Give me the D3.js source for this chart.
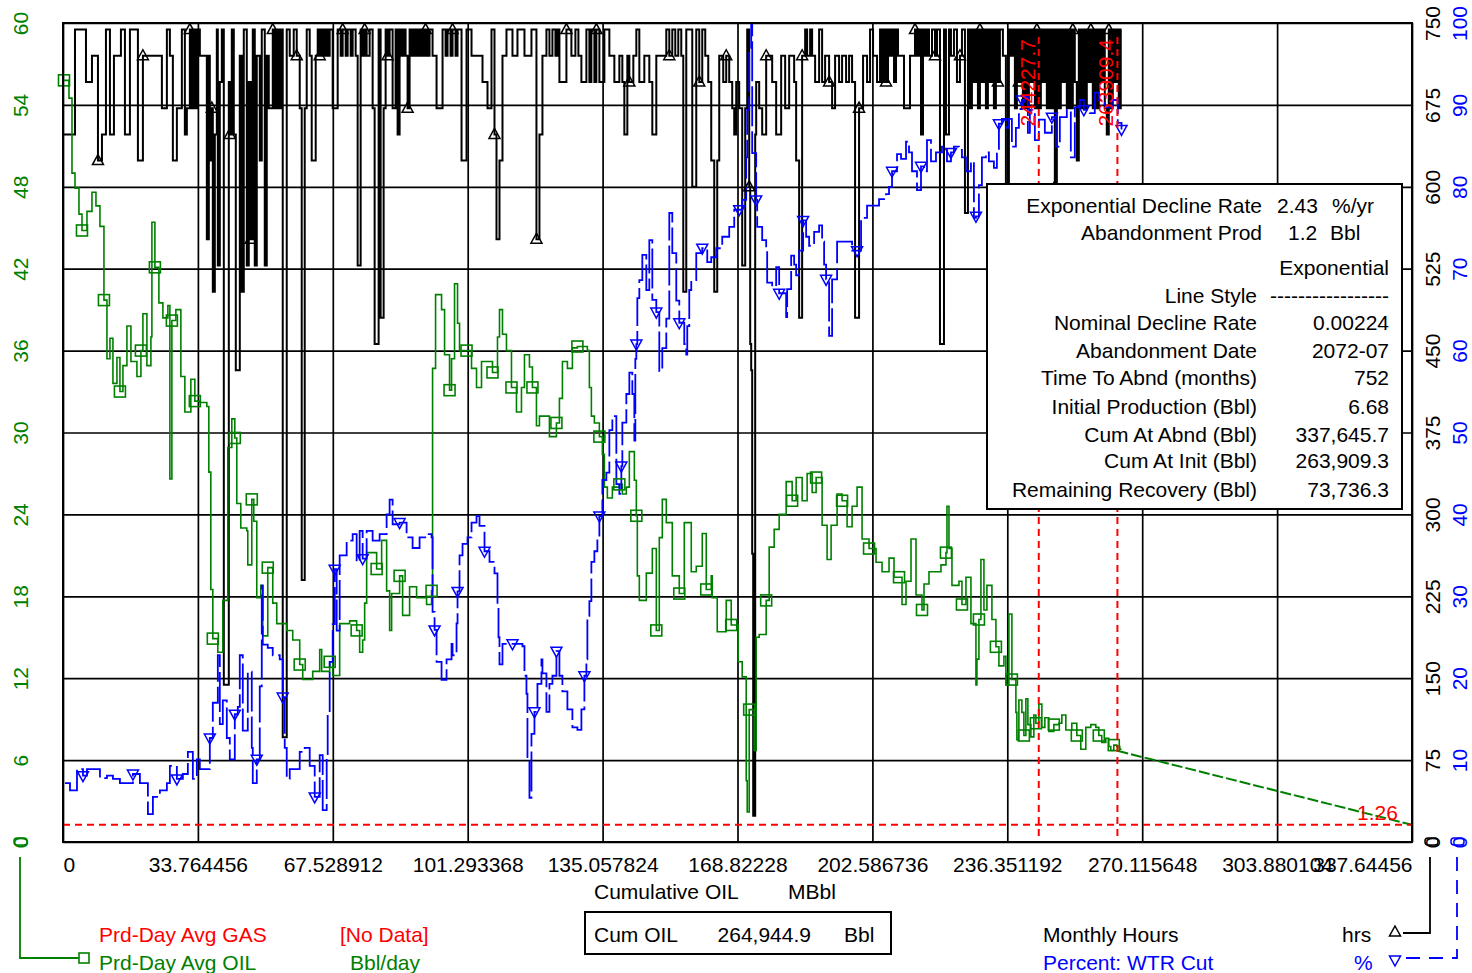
<!DOCTYPE html>
<html>
<head>
<meta charset="utf-8">
<script src="https://cdn.jsdelivr.net/npm/d3@7"></script>
<style>
  html, body { margin: 0; padding: 0; background: #fff; }
  svg { display: block; font-family: "Liberation Sans", Arial, sans-serif; }
</style>
</head>
<body>
<svg id="chart" width="1472" height="973"></svg>
<script>
// ---- axis ticks -------------------------------------------------------
const xTicks = [0, 33.764456, 67.528912, 101.293368, 135.057824, 168.82228,
  202.586736, 236.351192, 270.115648, 303.880104, 337.64456];
const xTickLabels = ["0", "33.764456", "67.528912", "101.293368", "135.057824", "168.82228",
  "202.586736", "236.351192", "270.115648", "303.880104", "337.64456"];
const oilTicks = [0, 6, 12, 18, 24, 30, 36, 42, 48, 54, 60];
const hoursTicks = [0, 75, 150, 225, 300, 375, 450, 525, 600, 675, 750];
const wtrTicks = [0, 10, 20, 30, 40, 50, 60, 70, 80, 90, 100];

// ---- Prd-Day Avg OIL (Bbl/day) vs cumulative oil (MBbl) -----------------
const oilRate = [
  [0.25,55.8],[1.5,54.5],[2.25,49.0],[3.0,47.9],[4.0,46.0],[4.75,44.8],[6.0,46.2],[7.25,47.6],
  [8.25,46.6],[9.25,45.1],[10.25,39.7],[11.0,35.4],[11.75,36.9],[12.5,33.6],[13.5,35.5],[14.25,33.0],
  [15.0,34.9],[16.0,37.8],[17.0,35.2],[18.5,34.1],[19.5,36.0],[20.0,38.7],[21.0,34.9],[22.0,37.0],
  [22.25,45.4],[23.0,42.1],[24.0,39.5],[25.0,38.4],[26.25,39.3],[26.75,26.6],[27.25,38.2],[28.25,39.0],
  [29.5,34.1],[30.5,31.5],[32.0,33.9],[33.0,32.3],[34.25,32.2],[36.0,31.9],[36.5,27.1],[37.0,18.5],
  [37.5,14.9],[38.75,13.9],[40.0,17.7],[41.25,28.9],[42.25,31.0],[43.0,29.6],[43.5,24.8],[44.5,23.0],
  [46.0,22.8],[46.25,20.3],[47.25,25.1],[47.75,23.5],[48.5,17.9],[49.5,18.8],[50.0,15.1],[51.25,20.1],
  [52.5,17.5],[53.5,16.0],[56.0,15.5],[57.5,14.8],[59.25,13.0],[60.0,11.9],[62.5,12.5],[64.25,14.1],
  [64.75,12.5],[66.75,13.2],[67.5,12.2],[68.75,12.2],[69.25,16.0],[71.75,16.2],[73.5,15.5],[74.25,13.9],
  [75.0,14.8],[75.5,17.5],[76.0,21.2],[78.5,20.0],[79.75,22.1],[81.0,18.4],[81.75,15.5],[82.25,18.2],
  [84.25,19.5],[85.0,16.6],[86.75,18.7],[88.5,17.9],[91.0,17.4],[92.25,18.4],[92.5,34.7],[93.25,40.1],
  [94.75,39.0],[95.5,35.7],[96.75,33.1],[97.25,35.4],[98.0,40.9],[98.75,38.0],[99.25,36.0],[101.0,36.0],
  [102.25,34.7],[103.5,33.3],[104.75,35.2],[106.0,35.2],[107.5,34.4],[108.75,37.0],[109.25,39.0],[110.0,37.2],
  [111.0,36.0],[112.25,33.3],[113.5,31.5],[114.75,33.3],[115.5,35.7],[116.75,34.8],[117.5,33.3],[118.5,30.5],
  [119.25,31.2],[121.0,31.2],[121.75,29.7],[123.5,30.7],[124.25,32.5],[125.0,35.2],[126.25,34.7],[127.5,36.2],
  [128.75,36.3],[131.25,36.0],[131.75,33.3],[132.25,31.2],[133.0,30.7],[134.25,29.7],[135.0,28.4],[135.5,26.0],
  [136.25,25.2],[137.5,26.0],[139.25,26.2],[140.0,25.5],[141.0,26.0],[141.75,28.6],[143.0,26.5],[143.5,23.9],
  [143.75,19.5],[144.25,17.7],[146.0,19.7],[147.5,21.5],[148.5,15.5],[149.25,22.3],[150.0,25.1],[151.0,23.4],
  [152.5,19.5],[154.25,18.2],[155.5,23.4],[157.25,19.8],[158.5,20.2],[160.0,22.6],[161.0,18.5],[162.25,19.5],
  [162.5,17.9],[163.75,15.4],[166.0,17.7],[167.25,15.9],[169.0,13.2],[170.0,12.1],[171.0,4.5],[171.25,2.2],
  [171.75,9.7],[172.5,9.7],[173.0,6.7],[173.5,15.0],[174.25,15.2],[176.0,17.7],[176.75,21.6],[178.0,22.9],
  [179.25,24.0],[181.0,26.4],[182.5,25.0],[183.5,26.7],[185.0,25.0],[186.25,27.0],[187.5,25.6],[188.5,26.7],
  [190.0,23.2],[191.25,20.7],[192.25,23.2],[193.75,25.5],[195.0,25.0],[196.25,23.1],[197.5,24.6],[198.75,26.0],
  [200.0,22.2],[201.75,21.5],[203.5,20.5],[205.0,19.8],[206.75,20.8],[208.0,19.4],[209.25,19.4],[210.0,17.4],
  [211.0,19.1],[212.25,22.2],[213.5,18.1],[215.0,17.0],[215.5,18.9],[216.75,19.8],[218.5,19.8],[219.75,20.3],
  [221.0,21.2],[221.25,24.6],[221.75,21.5],[222.5,18.8],[224.25,19.1],[225.0,17.4],[226.0,19.4],[227.25,16.0],
  [228.5,11.5],[228.75,13.4],[229.25,16.3],[229.75,20.7],[230.5,17.0],[231.25,18.8],[232.5,16.3],[233.5,14.3],
  [234.25,12.9],[235.5,13.6],[236.0,11.5],[236.75,16.7],[237.5,11.9],[238.5,9.5],[238.75,7.5],[239.25,10.4],
  [240.0,9.5],[240.5,7.8],[241.0,10.5],[241.5,8.6],[242.25,7.7],[243.0,9.3],[243.5,8.7],[244.25,10.1],
  [245.0,8.4],[245.75,9.1],[246.75,8.1],[248.0,8.6],[249.25,8.7],[250.0,9.3],[251.0,8.2],[252.5,8.7],
  [253.75,7.8],[254.75,6.8],[256.0,8.4],[257.25,8.6],[258.5,8.4],[259.25,7.8],[260.0,7.3],[261.0,7.6],
  [261.75,7.0],[262.25,6.7],[263.0,7.1],[263.75,7.0],[264.5,6.8],[264.94,6.8]
];

// ---- Percent: WTR Cut (%) vs cumulative oil (MBbl) ----------------------
const waterCut = [
  [0.5,7.2],[1.75,6.3],[3.5,8.9],[5.0,8.1],[6.0,8.9],[9.25,7.8],[11.0,8.1],[12.5,7.7],
  [14.25,7.2],[15.0,7.2],[17.5,8.3],[19.25,7.2],[21.25,3.4],[22.5,5.5],[24.25,6.3],[26.0,7.2],
  [26.75,9.3],[28.5,7.7],[30.0,8.3],[31.25,11.0],[32.5,7.7],[33.5,10.1],[34.25,8.9],[36.25,8.9],
  [36.75,12.7],[37.5,17.0],[38.75,22.8],[39.25,14.4],[40.0,17.3],[41.0,12.7],[41.75,10.1],[43.0,15.6],
  [43.75,16.5],[44.25,22.8],[45.0,13.6],[46.25,20.8],[47.25,11.5],[47.5,7.2],[48.5,10.1],[49.25,19.0],
  [49.75,31.3],[50.0,24.1],[51.25,23.7],[52.5,22.8],[54.25,22.3],[55.0,17.7],[55.5,11.5],[56.0,7.7],
  [56.75,8.9],[59.25,11.0],[60.5,11.5],[61.75,9.3],[63.0,5.5],[64.25,10.6],[65.0,3.9],[66.0,10.6],
  [66.25,15.6],[66.75,22.0],[67.5,26.6],[68.0,33.3],[68.5,25.8],[69.25,35.0],[71.0,36.8],[72.5,37.6],
  [73.5,34.2],[74.25,38.0],[75.0,34.6],[76.0,38.0],[77.5,36.8],[79.25,37.6],[81.0,40.0],[81.75,41.8],
  [82.5,38.8],[84.25,39.0],[86.0,37.2],[87.5,35.9],[89.25,37.2],[91.0,37.6],[92.25,37.2],[92.5,28.1],
  [93.0,25.9],[93.5,22.0],[94.75,19.8],[96.0,22.3],[97.25,24.2],[97.5,22.8],[98.5,26.7],[98.75,30.6],
  [99.25,35.0],[100.0,36.4],[101.25,37.2],[102.25,39.0],[103.5,39.8],[104.25,38.6],[105.5,35.5],[106.75,34.2],
  [108.0,32.8],[108.75,28.9],[109.0,25.0],[109.25,21.7],[110.0,24.2],[112.5,24.2],[115.0,23.9],[115.5,20.3],
  [116.0,18.1],[116.25,9.8],[116.75,5.4],[117.25,13.2],[118.0,15.9],[118.75,19.3],[119.75,22.3],[120.0,20.6],
  [121.0,15.9],[121.75,19.3],[122.5,20.3],[123.5,23.3],[124.25,20.3],[125.0,18.4],[126.25,16.2],[127.5,14.0],
  [128.75,13.7],[129.75,16.2],[130.5,20.3],[131.0,22.3],[131.25,27.6],[131.75,29.4],[132.25,34.2],[133.0,35.5],
  [133.75,37.2],[134.25,39.8],[135.0,44.2],[136.0,45.1],[136.75,50.3],[137.5,52.0],[138.5,43.7],[139.25,42.5],
  [139.75,45.9],[140.0,51.2],[141.0,54.7],[141.75,57.3],[142.5,54.7],[143.0,49.0],[143.25,59.0],[143.5,60.8],
  [143.75,66.4],[144.25,68.6],[145.0,71.7],[146.0,67.4],[146.75,73.5],[147.5,66.2],[148.5,64.7],[149.25,57.5],
  [150.0,60.3],[151.0,63.9],[151.75,76.8],[152.5,71.9],[153.5,66.1],[154.25,63.4],[155.5,60.8],[156.0,59.5],
  [156.25,63.0],[156.75,67.4],[157.25,68.6],[158.5,71.9],[160.0,72.5],[161.25,70.8],[162.25,71.4],[163.5,72.5],
  [165.0,73.9],[166.75,75.1],[168.0,77.2],[169.25,77.2],[170.0,78.4],[171.0,83.6],[171.25,89.4],[171.75,96.7],
  [172.25,100.0],[172.5,84.1],[173.5,78.4],[173.75,75.1],[175.0,73.5],[176.0,72.3],[176.25,68.3],[177.5,67.8],
  [178.5,70.2],[179.25,67.0],[181.0,64.1],[181.25,67.5],[182.25,71.6],[183.0,70.5],[183.5,69.2],[184.25,72.2],
  [185.25,75.9],[186.0,73.9],[186.75,72.8],[188.0,74.5],[189.25,75.3],[190.0,73.3],[190.5,70.5],[191.0,68.7],
  [191.75,61.8],[192.5,68.7],[193.75,73.3],[195.0,73.3],[196.75,73.3],[197.5,72.2],[198.75,72.2],[199.75,76.2],
  [201.25,77.7],[202.5,77.7],[204.25,78.5],[206.0,79.1],[206.75,80.0],[207.5,81.9],[208.75,84.0],[209.75,83.4],
  [211.0,85.5],[211.75,84.2],[212.5,81.9],[213.75,79.6],[214.75,82.5],[215.5,81.9],[216.25,85.7],[217.25,83.1],
  [218.5,84.2],[220.0,84.9],[221.25,83.1],[222.25,84.2],[223.0,84.9],[224.25,84.5],[225.0,83.6],[226.0,81.9],
  [227.25,83.1],[228.0,76.2],[228.5,76.4],[229.25,80.2],[230.0,83.6],[231.0,84.2],[231.75,83.1],[233.0,82.3],
  [233.75,84.2],[234.25,87.7],[235.0,88.3],[236.0,87.2],[236.75,88.3],[237.5,84.9],[238.5,87.2],[239.25,89.5],
  [240.0,90.6],[240.75,91.0],[241.5,86.6],[242.0,89.4],[243.25,85.7],[244.25,88.2],[245.75,86.6],[247.5,88.5],
  [248.5,84.9],[249.5,88.5],[251.25,89.4],[252.25,83.6],[253.25,89.7],[254.5,90.6],[255.5,89.4],[257.0,89.0],
  [258.25,91.5],[259.25,90.6],[260.75,89.7],[262.5,90.6],[264.0,87.8],[264.94,87.0]
];

// ---- Monthly Hours (hrs) vs cumulative oil (MBbl) -----------------------
const monthlyHours = [
  [0.25,648],[3.0,744],[5.75,696],[7.25,720],[8.75,624],[9.75,648],[10.75,744],[11.75,648],
  [12.75,720],[14.5,744],[15.5,648],[16.75,744],[18.75,624],[20.0,720],[24.75,672],[26.0,744],
  [26.75,720],[27.5,624],[28.5,672],[29.75,744],[30.5,648],[31.0,672],[31.75,744],[32.25,672],
  [32.75,744],[33.25,672],[33.75,744],[34.25,720],[36.0,552],[36.5,720],[36.75,624],[37.25,672],
  [37.5,504],[38.0,648],[38.5,744],[38.75,528],[39.25,696],[39.75,744],[40.25,144],[41.5,696],
  [41.75,648],[42.25,744],[42.75,648],[43.25,432],[44.25,720],[44.75,504],[45.25,744],[46.0,528],
  [46.5,696],[47.0,552],[47.5,744],[48.0,528],[48.5,720],[49.25,624],[49.75,744],[50.5,528],
  [51.0,720],[51.5,672],[52.5,744],[53.0,672],[53.5,744],[54.0,672],[54.5,744],[55.0,96],
  [56.0,744],[56.75,720],[57.75,744],[58.5,720],[59.25,672],[59.75,240],[60.5,672],[61.0,744],
  [61.75,720],[62.25,624],[63.25,720],[63.75,744],[64.25,720],[64.75,744],[65.25,720],[65.75,744],
  [66.25,720],[66.75,744],[67.5,672],[68.75,744],[69.5,720],[70.0,744],[70.75,720],[71.25,744],
  [72.0,720],[72.5,744],[73.25,720],[73.75,528],[74.5,744],[75.0,720],[75.5,744],[76.0,720],
  [76.75,744],[77.5,672],[78.0,456],[79.0,744],[79.5,480],[80.25,672],[80.75,744],[81.25,720],
  [81.75,744],[82.5,672],[83.25,744],[83.75,648],[84.25,744],[84.75,720],[85.25,744],[85.75,720],
  [86.25,672],[86.75,744],[87.25,720],[87.75,744],[88.25,720],[88.75,744],[89.25,720],[89.75,744],
  [90.25,720],[90.75,744],[91.25,720],[91.75,744],[92.5,720],[93.5,672],[95.0,744],[95.75,720],
  [96.25,744],[97.0,720],[97.5,744],[98.25,720],[98.75,744],[99.75,624],[101.0,744],[102.25,720],
  [105.0,696],[106.25,672],[107.25,744],[108.0,648],[108.5,552],[109.25,624],[110.0,720],[111.0,744],
  [112.5,720],[113.75,744],[115.5,720],[117.25,744],[118.5,552],[119.25,648],[120.0,720],[121.0,744],
  [121.75,720],[122.5,744],[123.25,720],[123.75,744],[124.25,696],[126.0,744],[127.25,720],[128.25,744],
  [129.0,720],[129.75,696],[131.0,744],[131.75,696],[132.25,744],[133.0,696],[133.5,744],[134.25,696],
  [135.5,744],[136.75,720],[138.0,696],[139.25,720],[140.0,696],[140.5,648],[141.25,720],[141.75,696],
  [142.75,720],[143.5,744],[144.25,696],[145.5,720],[146.75,696],[147.5,648],[148.5,720],[151.0,744],
  [151.75,720],[152.5,744],[153.25,720],[154.0,744],[154.75,720],[155.25,504],[156.0,744],[157.5,600],
  [158.5,744],[159.25,696],[160.0,744],[160.75,720],[161.5,696],[162.25,624],[163.0,504],[163.75,624],
  [164.25,720],[165.25,696],[166.0,720],[166.75,696],[167.5,672],[168.0,648],[168.5,696],[169.25,672],
  [170.0,528],[170.75,672],[171.25,744],[171.75,600],[172.0,456],[172.25,432],[172.5,264],[172.75,24],
  [173.25,648],[173.5,696],[174.25,672],[175.0,648],[176.0,720],[177.5,696],[178.5,648],[179.75,720],
  [180.75,672],[181.75,720],[183.0,696],[183.5,624],[184.25,480],[185.0,720],[185.75,744],[186.25,720],
  [187.0,744],[187.5,720],[188.25,696],[189.25,744],[190.0,696],[190.75,720],[191.75,696],[192.5,672],
  [193.25,720],[194.25,696],[195.0,720],[196.0,696],[196.75,720],[197.5,696],[198.25,480],[199.25,672],
  [200.25,720],[201.25,696],[202.0,744],[202.75,720],[203.75,696],[204.5,744],[205.0,696],[205.5,744],
  [206.0,696],[206.5,744],[207.0,720],[207.5,744],[208.0,696],[208.5,744],[209.0,720],[210.5,672],
  [212.0,720],[213.25,744],[213.75,720],[214.25,744],[214.75,648],[215.25,744],[215.75,720],[216.25,744],
  [216.75,720],[217.5,744],[218.25,720],[218.75,744],[219.5,456],[220.5,744],[221.0,648],[221.75,744],
  [222.25,720],[223.0,744],[223.75,696],[224.5,720],[225.0,744],[225.75,576],[226.5,744],[227.0,672],
  [227.5,744],[228.0,696],[228.5,744],[229.0,672],[229.5,744],[230.0,696],[230.5,744],[231.0,672],
  [231.5,744],[232.0,696],[232.5,744],[233.0,672],[233.5,744],[234.0,696],[234.5,744],[235.25,720],
  [236.0,600],[236.75,744],[237.25,720],[237.75,744],[238.25,672],[238.75,744],[239.25,696],[239.75,744],
  [240.25,672],[240.75,744],[241.25,672],[241.75,744],[242.25,696],[242.75,744],[243.25,672],[243.75,744],
  [244.25,672],[244.75,744],[245.25,696],[245.75,744],[246.25,672],[246.75,744],[247.25,672],[247.75,744],
  [248.25,600],[248.75,744],[249.25,672],[249.75,744],[250.25,696],[250.75,744],[251.25,672],[251.75,744],
  [252.25,672],[252.75,744],[253.25,696],[253.75,624],[254.25,744],[254.75,672],[255.25,744],[255.75,672],
  [256.25,744],[256.75,696],[257.25,744],[257.75,672],[258.25,744],[258.75,672],[259.25,744],[259.75,696],
  [260.25,744],[260.75,672],[261.25,648],[261.75,744],[262.25,672],[262.75,744],[263.25,696],[263.75,744],
  [264.25,672],[264.75,744],[264.94,744]
];

// ---- exponential decline fit (from the fit summary) ---------------------
const declineFit = [[263.9093, 6.68], [337.6457, 1.26]];
const abandonRate = 1.26;
const fitWindow = [244.2277, 263.9094];
const fitWindowLabels = ["244227.7", "263909.4"];

const fitHeader = [
  ["Exponential Decline Rate", "2.43", "%/yr"],
  ["Abandonment Prod", "1.2", "Bbl"]
];
const fitRows = [
  ["", "Exponential"],
  ["Line Style", "-----------------"],
  ["Nominal Decline Rate", "0.00224"],
  ["Abandonment Date", "2072-07"],
  ["Time To Abnd (months)", "752"],
  ["Initial Production (Bbl)", "6.68"],
  ["Cum At Abnd (Bbl)", "337,645.7"],
  ["Cum At Init (Bbl)", "263,909.3"],
  ["Remaining Recovery (Bbl)", "73,736.3"]
];
const cumOil = "264,944.9";

// ---- layout ------------------------------------------------------------
const P = { left: 63, top: 23, right: 1412, bottom: 842 };
const GREEN = "#008000", BLUE = "#0000ff", RED = "#ff0000";
const FS = "21px";

const x = d3.scaleLinear().domain([0, 337.64456]).range([P.left, P.right]);
const yOil = d3.scaleLinear().domain([0, 60]).range([P.bottom, P.top]);
const yHrs = d3.scaleLinear().domain([0, 750]).range([P.bottom, P.top]);
const yWtr = d3.scaleLinear().domain([0, 100]).range([P.bottom, P.top]);

const svg = d3.select("#chart");
svg.append("rect").attr("width", 1472).attr("height", 973).attr("fill", "#fff");

// grid
const gridX = svg.append("g").attr("transform", `translate(0,${P.bottom})`)
  .call(d3.axisBottom(x).tickValues(xTicks).tickSize(-(P.bottom - P.top)).tickFormat(""));
const gridY = svg.append("g").attr("transform", `translate(${P.left},0)`)
  .call(d3.axisLeft(yOil).tickValues(oilTicks).tickSize(-(P.right - P.left)).tickFormat(""));
[gridX, gridY].forEach(g => {
  g.select(".domain").remove();
  g.selectAll("line").attr("stroke", "#000").attr("stroke-width", 1.7);
});

// ---- series -------------------------------------------------------------
const stepLine = ys => d3.line().x(d => x(d[0])).y(d => ys(d[1])).curve(d3.curveStepAfter);

svg.append("path").datum(monthlyHours)
  .attr("d", stepLine(yHrs)).attr("fill", "none")
  .attr("stroke", "#000").attr("stroke-width", 2);

svg.append("path").datum(oilRate)
  .attr("d", stepLine(yOil)).attr("fill", "none")
  .attr("stroke", GREEN).attr("stroke-width", 1.6);

svg.append("path").datum(waterCut)
  .attr("d", stepLine(yWtr)).attr("fill", "none")
  .attr("stroke", BLUE).attr("stroke-width", 1.8).attr("stroke-dasharray", "40,5");

// markers
const upTri = "M0,-6L5.5,4L-5.5,4Z";
const downTri = "M0,6L5.5,-4L-5.5,-4Z";
svg.append("g").selectAll("path").data(monthlyHours.filter((d, i) => i % 9 === 4)).join("path")
  .attr("d", upTri).attr("transform", d => `translate(${x(d[0])},${yHrs(d[1])})`)
  .attr("fill", "none").attr("stroke", "#000").attr("stroke-width", 1.5);
svg.append("g").selectAll("rect").data(oilRate.filter((d, i) => i % 5 === 0)).join("rect")
  .attr("x", d => x(d[0]) - 5.5).attr("y", d => yOil(d[1]) - 5.5)
  .attr("width", 11).attr("height", 11)
  .attr("fill", "none").attr("stroke", GREEN).attr("stroke-width", 1.6);
svg.append("g").selectAll("path").data(waterCut.filter((d, i) => i % 7 === 3)).join("path")
  .attr("d", downTri).attr("transform", d => `translate(${x(d[0])},${yWtr(d[1])})`)
  .attr("fill", "none").attr("stroke", BLUE).attr("stroke-width", 1.5);

// decline forecast
svg.append("path").datum(declineFit)
  .attr("d", d3.line().x(d => x(d[0])).y(d => yOil(d[1])))
  .attr("stroke", GREEN).attr("stroke-width", 2).attr("stroke-dasharray", "11,3");

// fit window and abandonment guides
svg.append("line")
  .attr("x1", P.left).attr("x2", P.right).attr("y1", yOil(abandonRate)).attr("y2", yOil(abandonRate))
  .attr("stroke", RED).attr("stroke-width", 2).attr("stroke-dasharray", "7,5");
svg.append("g").selectAll("line").data(fitWindow).join("line")
  .attr("x1", d => x(d)).attr("x2", d => x(d)).attr("y1", P.top + 14).attr("y2", P.bottom)
  .attr("stroke", RED).attr("stroke-width", 2).attr("stroke-dasharray", "7,5");
svg.append("g").selectAll("text").data(fitWindow).join("text")
  .attr("transform", d => `translate(${x(d) - 4},${P.top + 16}) rotate(-90)`)
  .attr("text-anchor", "end").attr("fill", RED).style("font-size", FS)
  .text((d, i) => fitWindowLabels[i]);
svg.append("text").attr("x", 1357).attr("y", yOil(abandonRate) - 5)
  .attr("fill", RED).style("font-size", FS).text(abandonRate.toFixed(2));

// frame
svg.append("rect").attr("x", P.left).attr("y", P.top)
  .attr("width", P.right - P.left).attr("height", P.bottom - P.top)
  .attr("fill", "none").attr("stroke", "#000").attr("stroke-width", 2);

// ---- axes labels ----------------------------------------------------------
const xAxis = svg.append("g").attr("transform", `translate(0,${P.bottom})`)
  .call(d3.axisBottom(x).tickValues(xTicks).tickSize(0).tickPadding(15)
    .tickFormat((d, i) => xTickLabels[i]));
xAxis.select(".domain").remove();
xAxis.selectAll("text").attr("fill", "#000").style("font-size", FS)
  .style("font-family", "Liberation Sans, Arial, sans-serif")
  .attr("text-anchor", (d, i) => i === 0 ? "start" : i === xTicks.length - 1 ? "end" : "middle");

function rotatedAxis(axisFn, scale, ticks, gx, offset, color) {
  const g = svg.append("g").attr("transform", `translate(${gx},0)`)
    .call(axisFn(scale).tickValues(ticks).tickSize(0));
  g.select(".domain").remove();
  g.selectAll("text")
    .attr("x", 0).attr("y", 0).attr("dy", null)
    .attr("text-anchor", "middle").attr("fill", color)
    .style("font-size", FS).style("font-family", "Liberation Sans, Arial, sans-serif")
    .attr("transform", `translate(${offset},0) rotate(-90)`);
}
rotatedAxis(d3.axisLeft, yOil, oilTicks, P.left, 27.5 - P.left, GREEN);
rotatedAxis(d3.axisRight, yHrs, hoursTicks, P.right, 1439.5 - P.right, "#000");
rotatedAxis(d3.axisRight, yWtr, wtrTicks, P.right, 1466.5 - P.right, BLUE);

const label = (t, xx, yy, color, anchor) => svg.append("text")
  .attr("x", xx).attr("y", yy).attr("fill", color || "#000")
  .attr("text-anchor", anchor || "start").style("font-size", FS).text(t);

label("Cumulative OIL", 594, 899);
label("MBbl", 788, 899);

// ---- fit summary box ------------------------------------------------------
svg.append("rect").attr("x", 987).attr("y", 184).attr("width", 415).attr("height", 325)
  .attr("fill", "#fff").attr("stroke", "#000").attr("stroke-width", 2);
const headY = [213, 240];
fitHeader.forEach((r, i) => {
  label(r[0], 1262, headY[i], "#000", "end");
  label(r[1], i === 0 ? 1277 : 1288, headY[i]);
  label(r[2], i === 0 ? 1332 : 1330, headY[i]);
});
const rowY = [275, 303, 330, 358, 385, 414, 442, 468, 497];
fitRows.forEach((r, i) => {
  if (r[0]) label(r[0], 1257, rowY[i], "#000", "end");
  label(r[1], 1389, rowY[i], "#000", "end");
});

// ---- bottom legend ----------------------------------------------------------
// cumulative oil box
svg.append("rect").attr("x", 585).attr("y", 912).attr("width", 306).attr("height", 42)
  .attr("fill", "none").attr("stroke", "#000").attr("stroke-width", 2);
label("Cum OIL", 594, 942);
label(cumOil, 811, 942, "#000", "end");
label("Bbl", 844, 942);

// left-axis series
svg.append("rect").attr("x", 14).attr("y", 838).attr("width", 13).attr("height", 7).attr("rx", 3)
  .attr("fill", "none").attr("stroke", GREEN).attr("stroke-width", 1.5);
svg.append("path").attr("d", "M20,857V958H79").attr("fill", "none")
  .attr("stroke", GREEN).attr("stroke-width", 1.8);
svg.append("rect").attr("x", 79).attr("y", 953).attr("width", 10).attr("height", 10)
  .attr("fill", "none").attr("stroke", GREEN).attr("stroke-width", 1.6);
label("Prd-Day Avg GAS", 99, 942, RED);
label("[No Data]", 340, 942, RED);
label("Prd-Day Avg OIL", 99, 970, GREEN);
label("Bbl/day", 350, 970, GREEN);

// right-axis series
svg.append("rect").attr("x", 1425).attr("y", 838).attr("width", 13).attr("height", 7).attr("rx", 3)
  .attr("fill", "none").attr("stroke", "#000").attr("stroke-width", 1.5);
svg.append("path").attr("d", "M1430,857V933H1403").attr("fill", "none")
  .attr("stroke", "#000").attr("stroke-width", 1.8);
svg.append("path").attr("d", upTri).attr("transform", "translate(1395,932)")
  .attr("fill", "none").attr("stroke", "#000").attr("stroke-width", 1.5);
label("Monthly Hours", 1043, 942);
label("hrs", 1342, 942);

svg.append("rect").attr("x", 1451).attr("y", 838).attr("width", 13).attr("height", 7).attr("rx", 3)
  .attr("fill", "none").attr("stroke", BLUE).attr("stroke-width", 1.5);
svg.append("path").attr("d", "M1457,857V958H1406").attr("fill", "none")
  .attr("stroke", BLUE).attr("stroke-width", 1.8).attr("stroke-dasharray", "14,9");
svg.append("path").attr("d", downTri).attr("transform", "translate(1395,960)")
  .attr("fill", "none").attr("stroke", BLUE).attr("stroke-width", 1.5);
label("Percent: WTR Cut", 1043, 970, BLUE);
label("%", 1354, 970, BLUE);
</script>
</body>
</html>
